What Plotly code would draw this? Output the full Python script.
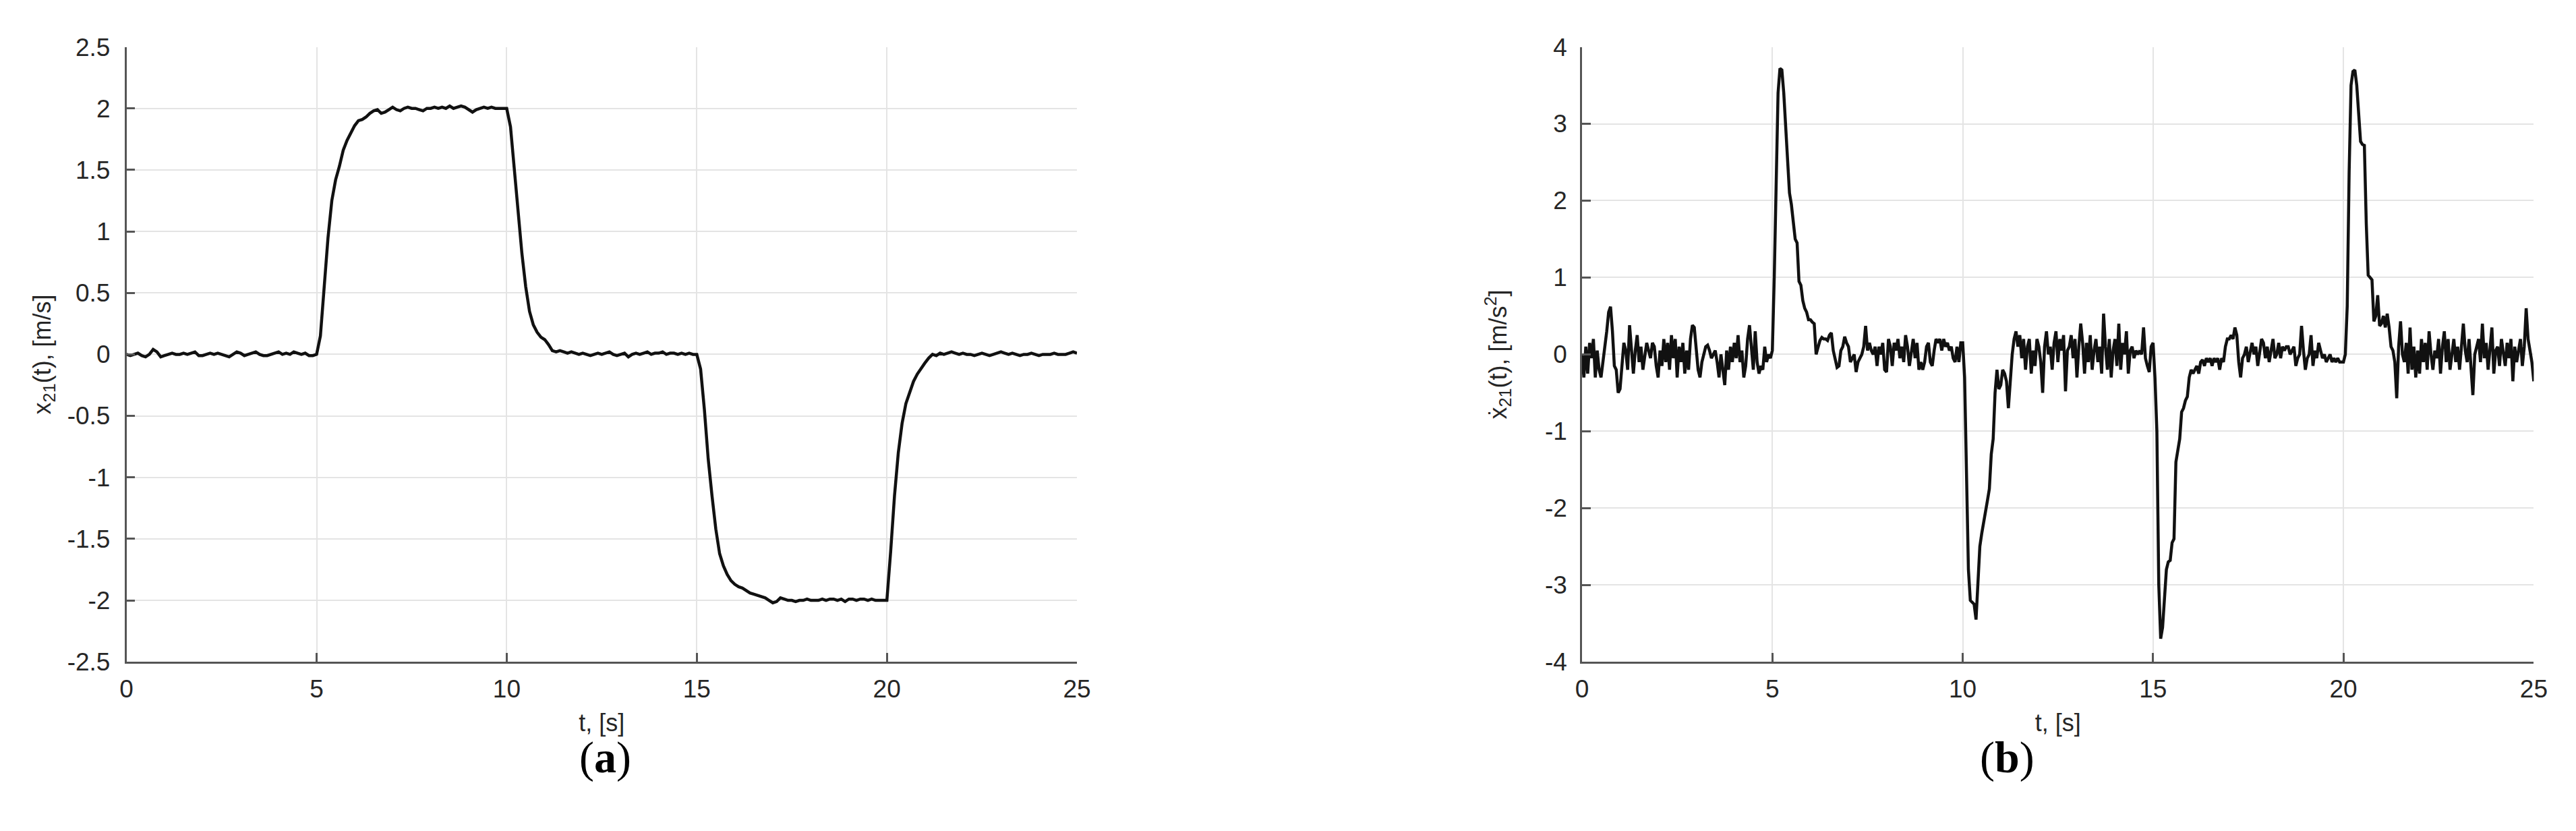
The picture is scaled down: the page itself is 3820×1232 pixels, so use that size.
import plotly.graph_objects as go

# (a) relative velocity x21(t), sampled every 0.1 s from 0 to 25 s
t_a = [round(i * 0.1, 2) for i in range(251)]
x21 = [
    0.00, -0.01, 0.00, 0.01, -0.01, -0.02, 0.00, 0.04, 0.02, -0.02,
    -0.01, 0.00, 0.01, 0.00, 0.00, 0.01, 0.00, 0.01, 0.02, -0.01,
    -0.01, 0.00, 0.01, 0.00, 0.01, 0.00, -0.01, -0.02, 0.00, 0.02,
    0.01, -0.01, 0.00, 0.01, 0.02, 0.00, -0.01, -0.01, 0.00, 0.01,
    0.02, 0.00, 0.01, 0.00, 0.02, 0.01, 0.00, 0.01, -0.01, -0.01,
    0.00, 0.15, 0.55, 0.95, 1.25, 1.42, 1.53, 1.66, 1.74, 1.80,
    1.86, 1.90, 1.91, 1.93, 1.96, 1.98, 1.99, 1.96, 1.97, 1.99,
    2.01, 1.99, 1.98, 2.00, 2.01, 2.00, 2.00, 1.99, 1.98, 2.00,
    2.00, 2.01, 2.00, 2.01, 2.00, 2.02, 2.00, 2.01, 2.02, 2.01,
    1.99, 1.97, 1.99, 2.00, 2.01, 2.00, 2.01, 2.00, 2.00, 2.00,
    2.00, 1.85, 1.50, 1.15, 0.82, 0.55, 0.35, 0.24, 0.18, 0.14,
    0.12, 0.08, 0.03, 0.02, 0.03, 0.02, 0.01, 0.02, 0.01, 0.00,
    0.01, 0.00, -0.01, 0.00, 0.01, 0.00, 0.01, 0.02, 0.00, -0.01,
    0.00, 0.01, -0.02, 0.00, 0.01, 0.00, 0.01, 0.02, 0.00, 0.01,
    0.01, 0.02, 0.00, 0.01, 0.01, 0.00, 0.01, 0.00, 0.01, 0.00,
    0.00, -0.12, -0.45, -0.85, -1.15, -1.42, -1.62, -1.72, -1.79, -1.84,
    -1.87, -1.89, -1.90, -1.92, -1.94, -1.95, -1.96, -1.97, -1.98, -2.00,
    -2.02, -2.01, -1.98, -1.99, -2.00, -2.00, -2.01, -2.00, -2.00, -1.99,
    -2.00, -2.00, -2.00, -1.99, -2.00, -1.99, -1.99, -2.00, -1.99, -2.01,
    -1.99, -1.99, -2.00, -1.99, -1.99, -2.00, -1.99, -2.00, -2.00, -2.00,
    -2.00, -1.60, -1.15, -0.80, -0.56, -0.40, -0.30, -0.22, -0.16, -0.11,
    -0.07, -0.03, 0.00, -0.01, 0.01, 0.00, 0.01, 0.02, 0.01, 0.00,
    0.01, 0.00, 0.00, -0.01, 0.00, 0.01, 0.00, -0.01, 0.00, 0.01,
    0.02, 0.01, 0.00, 0.01, 0.00, -0.01, 0.00, 0.00, 0.01, 0.00,
    -0.01, 0.00, 0.00, 0.00, 0.01, 0.00, 0.00, 0.00, 0.01, 0.02,
    0.01,
]

# (b) relative acceleration, sampled every 0.05 s (one row per second)
t_b = [round(i * 0.05, 2) for i in range(501)]
x21_dot = [
    0.00, -0.30, 0.10, -0.25, 0.15, -0.05, 0.20, -0.30, 0.05, -0.20, -0.30, -0.10, 0.05, 0.30, 0.55, 0.62, 0.30, -0.15, -0.20, -0.50,
    -0.45, -0.10, 0.15, 0.05, -0.20, 0.38, 0.10, -0.25, 0.05, 0.25, -0.10, 0.10, -0.20, 0.00, 0.15, 0.05, -0.05, 0.15, 0.10, -0.15,
    -0.30, 0.05, -0.15, 0.20, -0.10, 0.15, -0.20, 0.25, -0.05, 0.20, -0.30, 0.10, -0.10, 0.15, -0.25, 0.05, -0.20, 0.20, 0.38, 0.35,
    0.10, -0.20, -0.30, -0.10, 0.00, 0.10, 0.12, 0.05, -0.05, 0.00, 0.05, -0.10, -0.30, 0.00, -0.20, -0.40, 0.05, -0.20, 0.10, -0.10,
    0.15, -0.05, 0.25, -0.10, 0.05, -0.30, -0.15, 0.20, 0.38, 0.10, -0.20, 0.30, -0.10, -0.25, -0.15, -0.20, 0.10, -0.10, 0.00, -0.05,
    0.05, 1.00, 2.50, 3.40, 3.72, 3.70, 3.40, 3.00, 2.50, 2.10, 1.95, 1.70, 1.50, 1.45, 0.95, 0.90, 0.70, 0.60, 0.55, 0.45,
    0.45, 0.42, 0.40, 0.00, 0.10, 0.18, 0.22, 0.20, 0.20, 0.18, 0.25, 0.28, 0.05, -0.05, -0.17, -0.15, 0.05, 0.10, 0.23, 0.15,
    0.10, -0.10, -0.05, 0.00, -0.23, -0.10, -0.05, 0.00, 0.10, 0.37, 0.05, 0.15, 0.05, 0.00, 0.10, -0.15, 0.10, 0.00, 0.15, -0.20,
    -0.23, 0.20, 0.10, -0.15, 0.15, 0.05, 0.20, -0.05, 0.10, -0.10, 0.25, 0.10, -0.15, 0.05, 0.20, -0.05, 0.15, -0.20, -0.10, -0.20,
    -0.10, 0.10, 0.15, -0.10, -0.15, 0.05, 0.20, 0.15, 0.20, 0.05, 0.20, 0.10, 0.15, 0.05, 0.10, -0.05, -0.10, 0.10, -0.10, 0.15,
    0.15, -0.30, -1.60, -2.80, -3.20, -3.22, -3.25, -3.45, -3.00, -2.50, -2.33, -2.20, -2.07, -1.90, -1.75, -1.30, -1.10, -0.50, -0.20, -0.45,
    -0.40, -0.20, -0.25, -0.35, -0.70, -0.30, 0.00, 0.20, 0.30, 0.10, 0.25, -0.05, 0.20, -0.20, 0.10, 0.20, -0.25, 0.05, -0.15, 0.20,
    0.10, -0.10, -0.50, 0.10, 0.30, 0.00, 0.10, -0.20, 0.15, 0.30, -0.10, 0.20, 0.05, 0.25, -0.48, 0.05, 0.10, 0.25, -0.05, 0.20,
    -0.30, 0.10, 0.40, 0.15, -0.25, 0.15, -0.10, 0.25, -0.20, 0.05, 0.20, -0.10, 0.10, -0.25, 0.53, 0.10, -0.20, 0.20, -0.30, 0.05,
    0.20, -0.15, 0.40, -0.20, 0.15, 0.00, 0.30, -0.25, 0.05, 0.10, -0.05, 0.05, 0.00, 0.05, 0.00, 0.35, -0.05, -0.15, -0.23, 0.10,
    0.15, -0.30, -1.00, -3.00, -3.70, -3.55, -3.10, -2.80, -2.70, -2.68, -2.45, -2.40, -1.40, -1.25, -1.10, -0.75, -0.70, -0.60, -0.55, -0.30,
    -0.20, -0.25, -0.20, -0.15, -0.25, -0.10, -0.07, -0.15, -0.05, -0.10, -0.05, -0.15, -0.05, -0.10, -0.05, -0.20, -0.05, -0.10, 0.10, 0.20,
    0.20, 0.25, 0.20, 0.35, 0.25, -0.10, -0.30, -0.05, 0.00, 0.10, -0.10, 0.05, 0.15, 0.00, 0.10, -0.15, 0.05, 0.20, 0.15, -0.05,
    0.10, -0.10, 0.05, 0.20, -0.05, 0.00, 0.15, -0.05, 0.10, 0.05, 0.10, 0.10, 0.00, 0.05, 0.10, -0.15, -0.05, 0.00, 0.37, 0.05,
    -0.20, -0.05, 0.00, 0.25, -0.15, 0.05, -0.05, 0.15, 0.05, -0.05, 0.00, -0.10, -0.05, 0.00, -0.10, -0.05, -0.10, -0.05, -0.10, -0.10,
    -0.10, 0.00, 0.63, 2.37, 3.50, 3.68, 3.70, 3.50, 3.17, 2.77, 2.73, 2.72, 1.70, 1.03, 1.00, 0.97, 0.43, 0.50, 0.77, 0.37,
    0.40, 0.50, 0.35, 0.53, 0.35, 0.10, 0.05, -0.10, -0.57, 0.10, 0.43, 0.00, -0.10, 0.15, -0.25, 0.35, -0.20, 0.10, -0.30, 0.05,
    -0.25, 0.20, -0.10, 0.15, -0.20, 0.30, 0.00, -0.20, 0.05, -0.05, 0.20, -0.25, 0.10, 0.30, -0.10, 0.20, -0.20, 0.05, 0.20, -0.10,
    0.10, -0.20, 0.15, 0.40, 0.05, -0.10, 0.20, -0.15, -0.53, 0.00, 0.10, 0.20, -0.10, 0.40, -0.05, 0.15, -0.20, 0.10, 0.35, -0.25,
    0.05, 0.10, -0.15, 0.20, 0.05, -0.15, 0.15, -0.05, 0.20, -0.35, 0.10, -0.10, 0.05, 0.20, -0.15, 0.10, 0.60, 0.20, 0.05, -0.10,
    -0.35,
]

x_ticks = [0, 5, 10, 15, 20, 25]
ya_ticks = [2.5, 2, 1.5, 1, 0.5, 0, -0.5, -1, -1.5, -2, -2.5]
yb_ticks = [4, 3, 2, 1, 0, -1, -2, -3, -4]

TICK_FONT = dict(family="Liberation Sans, Arial, sans-serif", size=37, color="#262626")
AX_COLOR = "#555555"
GRID_COLOR = "#e4e4e4"


def label(v):
    # MATLAB style labels: plain hyphen, no trailing zeros
    return ("%g" % v).replace("\u2212", "-")


def axis_style(ticks, rng):
    return dict(
        range=rng, tickvals=ticks, ticktext=[label(v) for v in ticks],
        showline=True, linecolor=AX_COLOR, linewidth=2.5,
        ticks="inside", ticklen=13, tickwidth=2.5, tickcolor=AX_COLOR,
        showgrid=True, gridcolor=GRID_COLOR, gridwidth=2,
        zeroline=False, mirror=False, tickfont=TICK_FONT,
    )


fig = go.Figure()
fig.add_trace(go.Scatter(x=t_a, y=x21, mode="lines",
                         line=dict(color="#111111", width=4.5), xaxis="x", yaxis="y"))
fig.add_trace(go.Scatter(x=t_b, y=x21_dot, mode="lines",
                         line=dict(color="#111111", width=4.5), xaxis="x2", yaxis="y2"))

y_dom = [1 - 986 / 1232, 1 - 43 / 1232]
title_font = dict(family="Liberation Sans, Arial, sans-serif", size=36, color="#262626")

fig.update_layout(
    width=3820, height=1232,
    margin=dict(l=0, r=0, t=0, b=0),
    paper_bgcolor="white", plot_bgcolor="white",
    showlegend=False,
    xaxis=dict(domain=[171 / 3820, 1592 / 3820], anchor="y",
               title=dict(text="t, [s]", font=title_font, standoff=18),
               ticklabelstandoff=6,
               **axis_style(x_ticks, [0, 25])),
    yaxis=dict(domain=y_dom, anchor="x",
               title=dict(text="x<sub>21</sub>(t), [m/s]", font=title_font, standoff=14),
               ticklabelstandoff=14,
               **axis_style(ya_ticks, [-2.5, 2.5])),
    xaxis2=dict(domain=[2347 / 3820, 3770 / 3820], anchor="y2",
                title=dict(text="t, [s]", font=title_font, standoff=18),
                ticklabelstandoff=6,
                **axis_style(x_ticks, [0, 25])),
    yaxis2=dict(domain=y_dom, anchor="x2",
                title=dict(text="\u1e8b<sub>21</sub>(t), [m/s<sup>2</sup>]", font=title_font, standoff=46),
                ticklabelstandoff=12,
                **axis_style(yb_ticks, [-4, 4])),
    annotations=[
        dict(text="(<b>a</b>)", x=846 / 3820, y=1 - 1173 / 1232, xref="paper", yref="paper",
             showarrow=False, font=dict(family="Liberation Serif, serif", size=66, color="black")),
        dict(text="(<b>b</b>)", x=3026 / 3820, y=1 - 1173 / 1232, xref="paper", yref="paper",
             showarrow=False, font=dict(family="Liberation Serif, serif", size=66, color="black")),
    ],
)

fig.write_html("out.html")
